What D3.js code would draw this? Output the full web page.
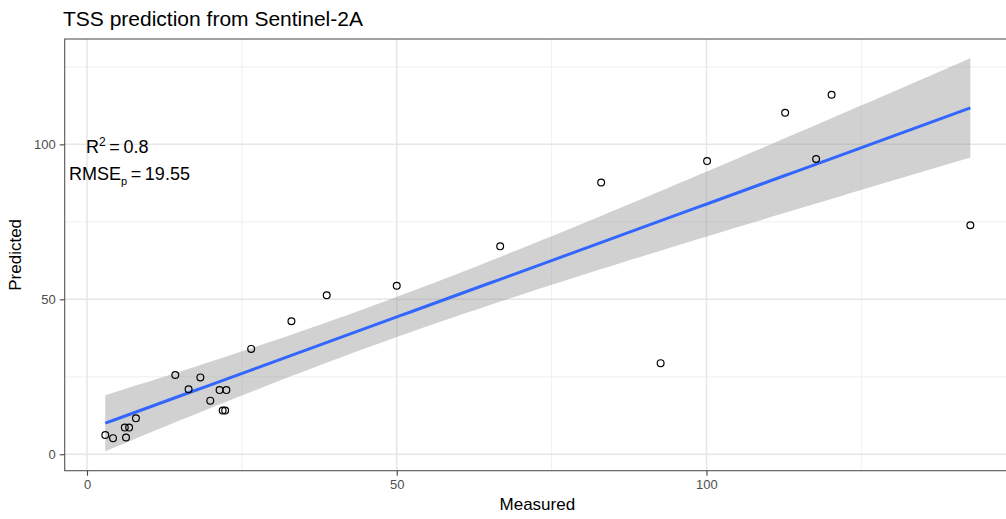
<!DOCTYPE html>
<html><head><meta charset="utf-8">
<script src="https://cdn.jsdelivr.net/npm/d3@7"></script>
<style>body{margin:0;background:#fff;} text{font-family:"Liberation Sans",Arial,sans-serif;}</style>
</head><body>
<svg id="c" width="1006" height="519"></svg>
<script>
// Data
const measured  = [2.95, 4.2, 6.3, 6.1, 6.8, 7.9, 14.25, 16.4, 18.3, 19.9, 21.4, 22.5, 21.9, 22.3,
                   26.5, 33.0, 38.7, 50.0, 66.7, 83.0, 92.6, 100.1, 112.7, 120.2, 117.7, 142.6];
const predicted = [6.2, 5.2, 5.4, 8.6, 8.6, 11.6, 25.6, 21.0, 24.8, 17.3, 20.7, 20.7, 14.1, 14.1,
                   34.0, 42.9, 51.3, 54.4, 67.1, 87.7, 29.4, 94.6, 110.2, 116.0, 95.3, 73.9];
const xTicks = [0, 50, 100];
const yTicks = [0, 50, 100];
const xMinor = [25, 75, 125];
const yMinor = [25, 75, 125];
const titleText = "TSS prediction from Sentinel-2A";
const xLabel = "Measured", yLabel = "Predicted";
const r2Value = "0.8", rmseValue = "19.55";
const tCrit = 2.074; // t(0.975, df = n-2 = 24)

const svg = d3.select("#c");
const x = d3.scaleLinear().domain([-3.6, 149]).range([64.7, 1010]);
const y = d3.scaleLinear().domain([-5.3, 134]).range([470.7, 39]);
const [pl, pr] = x.range(), [pb, pt] = y.range();

// grid
const g = svg.append("g");
g.selectAll(".vmin").data(xMinor).join("line")
  .attr("x1", d => x(d)).attr("x2", d => x(d)).attr("y1", pt).attr("y2", pb)
  .attr("stroke", "#ebebeb").attr("stroke-width", 0.8);
g.selectAll(".hmin").data(yMinor).join("line")
  .attr("y1", d => y(d)).attr("y2", d => y(d)).attr("x1", pl).attr("x2", pr)
  .attr("stroke", "#ebebeb").attr("stroke-width", 0.8);
g.selectAll(".vmaj").data(xTicks).join("line")
  .attr("x1", d => x(d)).attr("x2", d => x(d)).attr("y1", pt).attr("y2", pb)
  .attr("stroke", "#e6e6e6").attr("stroke-width", 1.5);
g.selectAll(".hmaj").data(yTicks).join("line")
  .attr("y1", d => y(d)).attr("y2", d => y(d)).attr("x1", pl).attr("x2", pr)
  .attr("stroke", "#e6e6e6").attr("stroke-width", 1.5);

// linear fit + confidence band
const n = measured.length;
const xbar = d3.mean(measured), ybar = d3.mean(predicted);
let sxx = 0, sxy = 0;
for (let i = 0; i < n; i++) { sxx += (measured[i]-xbar)**2; sxy += (measured[i]-xbar)*(predicted[i]-ybar); }
const b1 = sxy / sxx, b0 = ybar - b1 * xbar;
let sse = 0;
for (let i = 0; i < n; i++) sse += (predicted[i] - (b0 + b1*measured[i]))**2;
const s = Math.sqrt(sse / (n - 2));
const [xmin, xmax] = d3.extent(measured);
const grid = d3.range(80).map(i => xmin + (xmax - xmin) * i / 79);
const fit = grid.map(xv => {
  const yh = b0 + b1 * xv;
  const se = s * Math.sqrt(1/n + (xv - xbar)**2 / sxx);
  return {x: xv, y: yh, lo: yh - tCrit*se, hi: yh + tCrit*se};
});
svg.append("path").datum(fit)
  .attr("d", d3.area().x(d => x(d.x)).y0(d => y(d.lo)).y1(d => y(d.hi)))
  .attr("fill", "#999999").attr("fill-opacity", 0.45);
svg.append("path").datum(fit)
  .attr("d", d3.line().x(d => x(d.x)).y(d => y(d.y)))
  .attr("fill", "none").attr("stroke", "#3366FF").attr("stroke-width", 3);

// points
svg.selectAll(".pt").data(measured).join("circle")
  .attr("cx", d => x(d)).attr("cy", (d, i) => y(predicted[i])).attr("r", 3.4)
  .attr("fill", "none").attr("stroke", "#000").attr("stroke-width", 1.2);

// panel border
svg.append("rect").attr("x", pl).attr("y", pt).attr("width", pr - pl).attr("height", pb - pt)
  .attr("fill", "none").attr("stroke", "#555555").attr("stroke-width", 1.1);

// axes
const xAxis = svg.append("g").attr("transform", `translate(0,${pb})`)
  .call(d3.axisBottom(x).tickValues(xTicks).tickSize(5).tickPadding(4).tickFormat(d3.format("d")));
const yAxis = svg.append("g").attr("transform", `translate(${pl},0)`)
  .call(d3.axisLeft(y).tickValues(yTicks).tickSize(5).tickPadding(4).tickFormat(d3.format("d")));
[xAxis, yAxis].forEach(a => {
  a.select(".domain").remove();
  a.selectAll(".tick line").attr("stroke", "#444444").attr("stroke-width", 1.1);
  a.selectAll(".tick text").attr("fill", "#4d4d4d").style("font-size", "13px")
    .style("font-family", "'Liberation Sans', Arial, sans-serif");
});

// titles
svg.append("text").attr("x", 63).attr("y", 26).text(titleText)
  .style("font-size", "21px").attr("fill", "#000");
svg.append("text").attr("x", (pl + pr) / 2).attr("y", 510).attr("text-anchor", "middle")
  .text(xLabel).style("font-size", "17px").attr("fill", "#000");
svg.append("text").attr("transform", `translate(21,${(pt + pb) / 2}) rotate(-90)`)
  .attr("text-anchor", "middle").text(yLabel).style("font-size", "17px").attr("fill", "#000");

// annotations
const a1 = svg.append("text").attr("x", 86).attr("y", 153).style("font-size", "18px").attr("fill", "#000");
a1.append("tspan").text("R");
a1.append("tspan").attr("dy", -7).style("font-size", "12px").text("2");
a1.append("tspan").attr("dy", 7).text("\u2009=\u2009" + r2Value);
const a2 = svg.append("text").attr("x", 69).attr("y", 180).style("font-size", "18px").attr("fill", "#000");
a2.append("tspan").text("RMSE");
a2.append("tspan").attr("dy", 5).style("font-size", "11px").text("p");
a2.append("tspan").attr("dy", -5).text("\u2009=\u2009" + rmseValue);
</script>
</body></html>
